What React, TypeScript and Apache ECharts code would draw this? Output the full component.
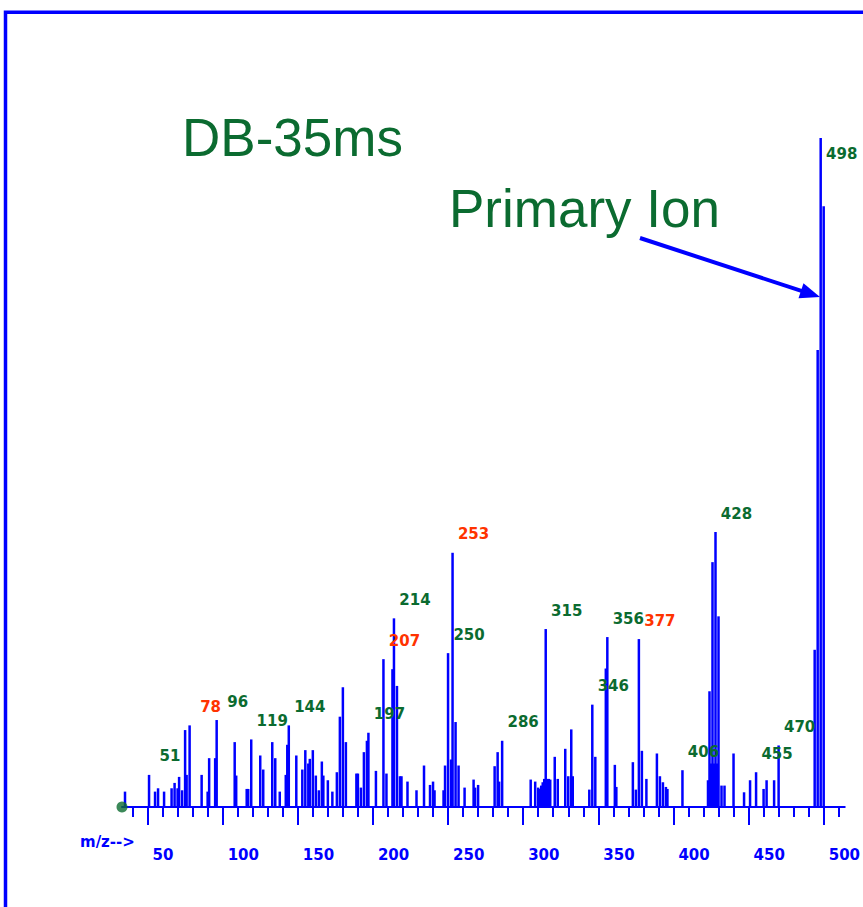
import React, { useEffect, useRef } from "react";
import * as echarts from "echarts";

// ---- Data (relative abundance in %) ----
const mzValues = [
  35, 51, 55, 57, 61, 66, 68, 70, 71, 73, 75, 76, 78, 86, 90, 91, 95, 96,
  108, 109, 116, 117, 119, 125, 127, 133, 135, 138, 142, 143, 144, 149, 153,
  155, 157, 158, 160, 162, 164, 166, 167, 170, 173, 176, 178, 180, 182, 189,
  190, 192, 194, 196, 197, 202, 207, 209, 213, 214, 216, 218, 219, 223, 229,
  234, 238, 240, 241, 247, 248, 250, 252, 253, 255, 257, 261, 267, 268, 270,
  281, 283, 284, 286, 305, 308, 310, 311, 312, 313, 314, 315, 316, 317, 318,
  321, 323, 328, 330, 332, 333, 344, 346, 348, 355, 356, 361, 362, 373, 375,
  377, 379, 382, 389, 391, 393, 395, 396, 406, 423, 424, 425, 426, 427, 428,
  429, 430, 432, 434, 440, 447, 451, 455, 460, 462, 467, 470, 494, 496, 498,
  500,
];
const abundances = [
  2.3, 4.8, 2.3, 2.8, 2.3, 2.8, 3.6, 2.8, 4.5, 2.5, 11.5, 4.8, 12.2, 4.8, 2.3,
  7.3, 7.3, 13.0, 9.7, 4.7, 2.7, 2.7, 10.1, 7.7, 5.6, 9.7, 7.3, 2.3, 4.8, 9.3,
  12.2, 7.7, 5.6, 8.5, 6.5, 7.2, 8.5, 4.7, 2.5, 6.8, 4.7, 4.0, 2.3, 5.2, 13.5,
  17.9, 9.7, 5.0, 5.0, 2.9, 8.2, 9.9, 11.1, 5.4, 22.1, 5.0, 20.6, 28.2, 18.1,
  4.6, 4.6, 3.8, 2.5, 6.2, 3.3, 3.8, 2.5, 2.5, 6.2, 23.0, 7.1, 38.0, 12.7, 6.2,
  2.9, 4.1, 2.9, 3.3, 6.1, 8.2, 3.8, 9.9, 4.1, 3.8, 2.9, 2.7, 3.2, 3.7, 4.2,
  26.6, 4.2, 4.2, 4.1, 7.5, 4.2, 8.7, 4.6, 11.6, 4.6, 2.6, 15.3, 7.5, 20.7,
  25.4, 6.3, 3.0, 6.7, 2.6, 25.1, 8.4, 4.2, 8.0, 4.6, 3.7, 3.0, 2.7, 5.5, 4.0,
  17.3, 6.5, 36.6, 6.5, 41.1, 6.5, 28.5, 3.2, 3.2, 8.0, 2.2, 4.0, 5.2, 2.7,
  4.0, 4.0, 9.2, 23.5, 68.3, 100, 89.8,
];
const labeledIons = [
  51, 78, 96, 119, 144, 197, 207, 214, 250, 253, 286, 315, 346, 356, 377, 406,
  428, 455, 470, 498,
];
const bleedIons = [78, 207, 253, 377];
const primaryIon = 498;
const startMarkerMz = [33];
const axisTickLabels = [50, 100, 150, 200, 250, 300, 350, 400, 450, 500];
const minorTickValues = [
  40, 60, 70, 80, 90, 110, 120, 130, 140, 160, 170, 180, 190, 210, 220, 230,
  240, 260, 270, 280, 290, 310, 320, 330, 340, 360, 370, 380, 390, 410, 420,
  430, 440, 460, 470, 480, 490, 510,
];
const mzMin = 33;
const mzMax = 514;
const chartTitle = "DB-35ms";
const annotationText = "Primary Ion";
const axisNameText = "m/z-->";

const BLUE = "#0000ff";
const GREEN = "#0b6b30";
const RED = "#ff3300";
const LABEL_FONT = '"DejaVu Sans", sans-serif';
const TITLE_FONT = '"Liberation Sans", Arial, sans-serif';

export default function App() {
  const ref = useRef<HTMLDivElement>(null);

  useEffect(() => {
    if (!ref.current) return;
    const chart = echarts.init(ref.current, null, { renderer: "svg" });

    const barData = mzValues.map((mz, i) => {
      const item: any = { value: [mz, abundances[i]] };
      if (labeledIons.includes(mz)) {
        item.label = {
          show: true,
          color: bleedIons.includes(mz) ? RED : GREEN,
          offset: mz === primaryIon ? [21, 34] : [21, 0],
        };
      }
      return item;
    });

    // arrow geometry (annotation)
    const ax0 = 640, ay0 = 238, tipX = 820, tipY = 297;
    const dx = tipX - ax0, dy = tipY - ay0;
    const len = Math.sqrt(dx * dx + dy * dy);
    const ux = dx / len, uy = dy / len;
    const headLen = 20, headHalf = 8;
    const bx = tipX - ux * headLen, by = tipY - uy * headLen;

    chart.setOption({
      animation: false,
      backgroundColor: "#ffffff",
      grid: { left: 122, right: 15, top: 138, bottom: 100, containLabel: false },
      xAxis: [
        {
          type: "value",
          min: mzMin,
          max: mzMax,
          position: "bottom",
          axisLine: { show: true, onZero: false, lineStyle: { color: BLUE, width: 2 } },
          axisTick: {
            show: true,
            customValues: axisTickLabels,
            length: 18,
            lineStyle: { color: BLUE, width: 2 },
          },
          axisLabel: {
            show: true,
            customValues: axisTickLabels,
            margin: 40,
            align: "left",
            padding: [0, 0, 0, 5],
            color: BLUE,
            fontFamily: LABEL_FONT,
            fontWeight: "bold",
            fontSize: 15,
          },
          splitLine: { show: false },
        },
        {
          type: "value",
          min: mzMin,
          max: mzMax,
          position: "bottom",
          axisLine: { show: false, onZero: false },
          axisTick: {
            show: true,
            customValues: minorTickValues,
            length: 10,
            lineStyle: { color: BLUE, width: 2 },
          },
          axisLabel: { show: false },
          splitLine: { show: false },
        },
      ],
      yAxis: { type: "value", min: 0, max: 100, show: false },
      series: [
        {
          type: "bar",
          xAxisIndex: 0,
          data: barData,
          barWidth: 2.5,
          itemStyle: { color: BLUE },
          label: {
            show: false,
            position: "top",
            distance: 11,
            formatter: (p: any) => String(p.value[0]),
            fontFamily: LABEL_FONT,
            fontWeight: "bold",
            fontSize: 15,
          },
          z: 2,
        },
        {
          type: "scatter",
          xAxisIndex: 0,
          data: startMarkerMz.map((m) => [m, 0]),
          symbol: "circle",
          symbolSize: 11,
          itemStyle: { color: GREEN },
          z: 3,
        },
      ],
      graphic: [
        {
          type: "rect",
          shape: { x: 5.5, y: 12.3, width: 1200, height: 1200 },
          style: { fill: "none", stroke: BLUE, lineWidth: 3.5 },
          silent: true,
        },
        {
          type: "text",
          x: 182,
          y: 137,
          style: {
            text: chartTitle,
            fontFamily: TITLE_FONT,
            fontSize: 53,
            fill: GREEN,
            verticalAlign: "middle",
            align: "left",
          },
          silent: true,
        },
        {
          type: "text",
          x: 449,
          y: 208,
          style: {
            text: annotationText,
            fontFamily: TITLE_FONT,
            fontSize: 53,
            fill: GREEN,
            verticalAlign: "middle",
            align: "left",
          },
          silent: true,
        },
        {
          type: "line",
          shape: { x1: ax0, y1: ay0, x2: bx + ux * 2, y2: by + uy * 2 },
          style: { stroke: BLUE, lineWidth: 4 },
          silent: true,
        },
        {
          type: "polygon",
          shape: {
            points: [
              [tipX, tipY],
              [bx - uy * headHalf, by + ux * headHalf],
              [bx + uy * headHalf, by - ux * headHalf],
            ],
          },
          style: { fill: BLUE },
          silent: true,
        },
        {
          type: "text",
          x: 80,
          y: 842,
          style: {
            text: axisNameText,
            fontFamily: LABEL_FONT,
            fontWeight: "bold",
            fontSize: 15,
            fill: BLUE,
            verticalAlign: "middle",
            align: "left",
          },
          silent: true,
        },
      ],
    });

    return () => chart.dispose();
  }, []);

  return (
    <div
      ref={ref}
      style={{ position: "fixed", left: 0, top: 0, width: 863, height: 907, background: "#fff" }}
    />
  );
}
